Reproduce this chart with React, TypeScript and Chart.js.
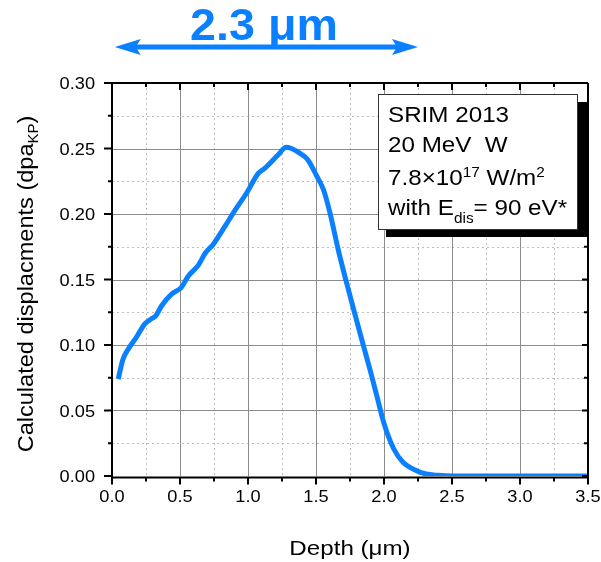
import { useEffect, useRef } from "react";
import { Chart, registerables } from "chart.js";
Chart.register(...registerables);

// ---- data ----
const depth = [0.046, 0.08, 0.12, 0.18, 0.24, 0.29, 0.32, 0.365, 0.44, 0.51, 0.56, 0.635, 0.685, 0.745, 0.83, 0.905, 0.99, 1.075, 1.125, 1.22, 1.28, 1.32, 1.38, 1.44, 1.505, 1.555, 1.6, 1.665, 1.726, 1.79, 1.85, 1.9, 1.95, 2.0, 2.07, 2.14, 2.24, 2.31, 2.4, 2.5, 3.0, 3.5];
const dpa = [0.074, 0.089, 0.097, 0.106, 0.116, 0.12, 0.122, 0.13, 0.139, 0.144, 0.1525, 0.161, 0.17, 0.177, 0.1905, 0.203, 0.216, 0.231, 0.235, 0.245, 0.251, 0.25, 0.2465, 0.2415, 0.229, 0.2185, 0.202, 0.172, 0.147, 0.122, 0.099, 0.08, 0.06, 0.04, 0.021, 0.0105, 0.004, 0.0015, 0.0005, 0, 0, 0];

const xMajor = [0, 0.5, 1.0, 1.5, 2.0, 2.5, 3.0, 3.5];
const xTickLabels = ["0.0", "0.5", "1.0", "1.5", "2.0", "2.5", "3.0", "3.5"];
const xMinor = [0.25, 0.75, 1.25, 1.75, 2.25, 2.75, 3.25];
const yMajor = [0, 0.05, 0.1, 0.15, 0.2, 0.25, 0.3];
const yTickLabels = ["0.00", "0.05", "0.10", "0.15", "0.20", "0.25", "0.30"];
const yMinor = [0.025, 0.075, 0.125, 0.175, 0.225, 0.275];

const xTitle = "Depth (μm)";
const yTitleMain = "Calculated displacments (dpa";
const yTitleSub = "KP";
const yTitleEnd = ")";
const rangeLabel = "2.3 μm";
const rangeFrom = 0.02;
const rangeTo = 2.25;

type Seg = { t: string; mode?: "sup" | "sub" };
const legendLines: Seg[][] = [
  [{ t: "SRIM 2013" }],
  [{ t: "20 MeV  W" }],
  [{ t: "7.8×10" }, { t: "17", mode: "sup" }, { t: " W/m" }, { t: "2", mode: "sup" }],
  [{ t: "with E" }, { t: "dis", mode: "sub" }, { t: "= 90 eV*" }],
];

const BLUE = "#0a80ff";
const FONT = "Arial, 'Liberation Sans', sans-serif";

function segWidth(ctx: CanvasRenderingContext2D, segs: Seg[], size: number, small: number, sx: number, bold = false) {
  let w = 0;
  for (const s of segs) {
    ctx.font = `${bold ? "bold " : ""}${s.mode ? small : size}px ${FONT}`;
    w += ctx.measureText(s.t).width * sx;
  }
  return w;
}

function drawSegs(
  ctx: CanvasRenderingContext2D,
  segs: Seg[],
  x: number,
  y: number,
  size: number,
  small: number,
  sx: number,
  align: "left" | "center" | "right",
  supDy: number,
  subDy: number,
  color = "#000",
  bold = false
) {
  const w = segWidth(ctx, segs, size, small, sx, bold);
  let cx = align === "left" ? x : align === "center" ? x - w / 2 : x - w;
  ctx.fillStyle = color;
  ctx.textBaseline = "alphabetic";
  ctx.textAlign = "left";
  for (const s of segs) {
    ctx.font = `${bold ? "bold " : ""}${s.mode ? small : size}px ${FONT}`;
    const dy = s.mode === "sup" ? supDy : s.mode === "sub" ? subDy : 0;
    ctx.save();
    ctx.translate(cx, y + dy);
    ctx.scale(sx, 1);
    ctx.fillText(s.t, 0, 0);
    ctx.restore();
    cx += ctx.measureText(s.t).width * sx;
  }
}

const decorPlugin = {
  id: "decor",
  beforeDatasetsDraw(chart: any) {
    const ctx: CanvasRenderingContext2D = chart.ctx;
    const { left, right, top, bottom } = chart.chartArea;
    const xs = chart.scales.x;
    const ys = chart.scales.y;
    ctx.save();
    // minor grid
    ctx.strokeStyle = "#bdbdbd";
    ctx.lineWidth = 1;
    ctx.setLineDash([2, 3]);
    for (const v of xMinor) {
      const px = Math.round(xs.getPixelForValue(v)) + 0.5;
      ctx.beginPath();
      ctx.moveTo(px, top);
      ctx.lineTo(px, bottom);
      ctx.stroke();
    }
    for (const v of yMinor) {
      const py = Math.round(ys.getPixelForValue(v)) + 0.5;
      ctx.beginPath();
      ctx.moveTo(left, py);
      ctx.lineTo(right, py);
      ctx.stroke();
    }
    ctx.setLineDash([]);
    ctx.strokeStyle = "#8c8c8c";
    for (const v of xMajor) {
      if (v === xMajor[0] || v === xMajor[xMajor.length - 1]) continue;
      const px = Math.round(xs.getPixelForValue(v)) + 0.5;
      ctx.beginPath();
      ctx.moveTo(px, top);
      ctx.lineTo(px, bottom);
      ctx.stroke();
    }
    for (const v of yMajor) {
      if (v === yMajor[0] || v === yMajor[yMajor.length - 1]) continue;
      const py = Math.round(ys.getPixelForValue(v)) + 0.5;
      ctx.beginPath();
      ctx.moveTo(left, py);
      ctx.lineTo(right, py);
      ctx.stroke();
    }
    ctx.restore();
  },
  afterDatasetsDraw(chart: any) {
    const ctx: CanvasRenderingContext2D = chart.ctx;
    const { left, right, top, bottom } = chart.chartArea;
    const xs = chart.scales.x;
    const ys = chart.scales.y;
    const axisY = bottom + 1.5;
    ctx.save();
    ctx.strokeStyle = "#000";
    ctx.lineWidth = 2;
    // frame
    ctx.beginPath();
    ctx.moveTo(left, axisY);
    ctx.lineTo(right, axisY);
    ctx.moveTo(left, top);
    ctx.lineTo(right, top);
    ctx.moveTo(left, top);
    ctx.lineTo(left, axisY + 1);
    ctx.moveTo(right, top);
    ctx.lineTo(right, axisY + 1);
    ctx.stroke();
    // ticks
    ctx.beginPath();
    for (const v of xMajor) {
      const px = xs.getPixelForValue(v);
      ctx.moveTo(px, axisY);
      ctx.lineTo(px, axisY + 7);
      ctx.moveTo(px, top);
      ctx.lineTo(px, top + 7);
    }
    for (const v of xMinor) {
      const px = xs.getPixelForValue(v);
      ctx.moveTo(px, axisY);
      ctx.lineTo(px, axisY + 4);
      ctx.moveTo(px, top);
      ctx.lineTo(px, top + 4);
    }
    for (const v of yMajor) {
      const py = ys.getPixelForValue(v);
      ctx.moveTo(left, py);
      ctx.lineTo(left - 8, py);
      ctx.moveTo(right, py);
      ctx.lineTo(right - 6, py);
    }
    for (const v of yMinor) {
      const py = ys.getPixelForValue(v);
      ctx.moveTo(left, py);
      ctx.lineTo(left - 4, py);
      ctx.moveTo(right, py);
      ctx.lineTo(right - 4, py);
    }
    ctx.stroke();

    // tick labels
    xMajor.forEach((v, i) => {
      drawSegs(ctx, [{ t: xTickLabels[i] }], xs.getPixelForValue(v), 502, 17, 12, 1.07, "center", 0, 0);
    });
    yMajor.forEach((v, i) => {
      drawSegs(ctx, [{ t: yTickLabels[i] }], 95, ys.getPixelForValue(v) + 6, 17, 12, 1.07, "right", 0, 0);
    });

    // axis titles
    drawSegs(ctx, [{ t: xTitle }], (left + right) / 2, 555, 21, 14, 1.15, "center", 0, 0);
    ctx.save();
    ctx.translate(33, 284);
    ctx.rotate(-Math.PI / 2);
    drawSegs(
      ctx,
      [{ t: yTitleMain }, { t: yTitleSub, mode: "sub" }, { t: yTitleEnd }],
      0,
      0,
      22,
      14,
      1.07,
      "center",
      -8,
      5
    );
    ctx.restore();

    // legend box
    ctx.fillStyle = "#000";
    ctx.fillRect(386, 102, 201, 135);
    ctx.fillStyle = "#fff";
    ctx.fillRect(378, 94, 200, 136);
    ctx.strokeStyle = "#333";
    ctx.lineWidth = 1;
    ctx.strokeRect(378.5, 94.5, 199, 135);
    const baselines = [122, 152, 185, 215];
    legendLines.forEach((segs, i) => {
      drawSegs(ctx, segs, 388, baselines[i], 22, 14, 1.1, "left", -8, 8);
    });

    // range arrow
    const x1 = xs.getPixelForValue(rangeFrom);
    const x2 = xs.getPixelForValue(rangeTo);
    const ay = 47;
    ctx.strokeStyle = BLUE;
    ctx.fillStyle = BLUE;
    ctx.lineWidth = 5;
    ctx.beginPath();
    ctx.moveTo(x1 + 15, ay);
    ctx.lineTo(x2 - 15, ay);
    ctx.stroke();
    const head = (tip: number, dir: number) => {
      ctx.beginPath();
      ctx.moveTo(tip, ay);
      ctx.lineTo(tip + dir * 26, ay - 8);
      ctx.lineTo(tip + dir * 21, ay);
      ctx.lineTo(tip + dir * 26, ay + 8);
      ctx.closePath();
      ctx.fill();
    };
    head(x1, 1);
    head(x2, -1);
    drawSegs(ctx, [{ t: rangeLabel }], 264, 40, 44, 30, 1.06, "center", 0, 0, BLUE, true);
    ctx.restore();
  },
};

export default function App() {
  const ref = useRef<HTMLCanvasElement | null>(null);
  useEffect(() => {
    if (!ref.current) return;
    const chart = new Chart(ref.current, {
      type: "line",
      data: {
        datasets: [
          {
            data: depth.map((d, i) => ({ x: d, y: dpa[i] })),
            borderColor: BLUE,
            borderWidth: 5,
            pointRadius: 0,
            fill: false,
            tension: 0.3,
            cubicInterpolationMode: "monotone",
            borderJoinStyle: "round",
          },
        ],
      },
      options: {
        responsive: false,
        animation: false,
        devicePixelRatio: 1,
        layout: { padding: { top: 83, right: 13, left: 0, bottom: 0 } },
        plugins: { legend: { display: false }, tooltip: { enabled: false } },
        scales: {
          x: {
            type: "linear",
            min: 0,
            max: 3.5,
            ticks: { display: false },
            grid: { display: false },
            border: { display: false },
            afterFit: (s: any) => {
              s.height = 86;
            },
          },
          y: {
            type: "linear",
            min: 0,
            max: 0.3,
            ticks: { display: false },
            grid: { display: false },
            border: { display: false },
            afterFit: (s: any) => {
              s.width = 112;
            },
          },
        },
      } as any,
      plugins: [decorPlugin],
    });
    return () => chart.destroy();
  }, []);
  return (
    <canvas
      ref={ref}
      width={601}
      height={562}
      style={{ position: "absolute", left: 0, top: 0, width: 601, height: 562 }}
    />
  );
}
